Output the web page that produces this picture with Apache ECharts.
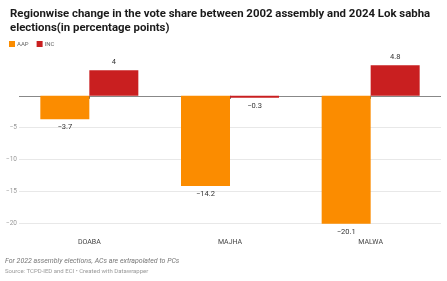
<!DOCTYPE html>
<html>
<head>
<meta charset="utf-8">
<script src="https://cdn.jsdelivr.net/npm/echarts@6/dist/echarts.min.js"></script>
<style>
  html, body { margin: 0; padding: 0; background: #fff; }
  #chart { width: 447px; height: 281px; }
</style>
</head>
<body>
<div id="chart"></div>
<script>
const regions = ["DOABA", "MAJHA", "MALWA"];
const aapValues = [-3.7, -14.2, -20.1];
const incValues = [4, -0.3, 4.8];
const yTicks = [-20, -15, -10, -5, 0, 5];

const fmt = (v) => String(v).replace("-", "\u2212");

const chart = echarts.init(document.getElementById("chart"));

const labelStyle = {
  show: true,
  fontSize: 7.5,
  color: "#333",
  fontFamily: "Roboto",
  formatter: (p) => fmt(p.value),
};

const barLabel = (vals) =>
  vals.map((v) => ({
    value: v,
    label: Object.assign({}, labelStyle, { position: v < 0 ? "bottom" : "top", distance: 4 }),
  }));

const option = {
  animation: false,
  textStyle: { fontFamily: "Roboto" },
  title: {
    text: "Regionwise change in the vote share between 2002 assembly and 2024 Lok sabha\nelections(in percentage points)",
    left: 5,
    top: 2,
    textStyle: { fontSize: 11.4, fontWeight: "bold", color: "#1a1a1a", lineHeight: 14, fontFamily: "Roboto" },
  },
  legend: {
    left: 4,
    top: 36,
    itemWidth: 6,
    itemHeight: 6,
    itemGap: 8,
    icon: "rect",
    textStyle: { fontSize: 6, color: "#666", padding: [0, 0, 0, -3] },
    data: ["AAP", "INC"],
  },
  grid: { left: 19, right: 6, top: 64, bottom: 58 },
  xAxis: {
    type: "category",
    data: regions,
    position: "bottom",
    offset: 9,
    axisLine: { show: false },
    axisTick: { show: true, alignWithLabel: true, length: 3, lineStyle: { color: "#666" } },
    axisLabel: { fontSize: 7, color: "#444", margin: 7 },
  },
  yAxis: {
    type: "value",
    min: yTicks[0],
    max: yTicks[yTicks.length - 1],
    interval: 5,
    axisLine: { show: false },
    axisTick: { show: false },
    axisLabel: {
      fontSize: 6.5,
      color: "#999",
      margin: 2,
      formatter: (v) => (v < 0 ? fmt(v) : ""),
    },
    splitLine: {
      lineStyle: {
        color: ["#e8e8e8", "#e8e8e8", "#e8e8e8", "#e8e8e8", "#888", "rgba(0,0,0,0)"],
        width: 1,
      },
    },
  },
  series: [
    {
      name: "AAP",
      type: "bar",
      barWidth: 49,
      barGap: "0%",
      clip: false,
      itemStyle: { color: "#fb8c00" },
      data: barLabel(aapValues),
    },
    {
      name: "INC",
      type: "bar",
      barWidth: 49,
      barGap: "0%",
      clip: false,
      itemStyle: { color: "#c91f20" },
      data: barLabel(incValues),
    },
  ],
  graphic: [
    {
      type: "text",
      left: 5,
      top: 258,
      style: {
        text: "For 2022 assembly elections, ACs are extrapolated to PCs",
        fontSize: 7,
        fontStyle: "italic",
        fill: "#777",
        fontFamily: "Roboto",
      },
    },
    {
      type: "text",
      left: 5,
      top: 268,
      style: {
        text: "Source: TCPD-IED and ECI \u2022 Created with Datawrapper",
        fontSize: 6,
        fill: "#999",
        fontFamily: "Roboto",
      },
    },
  ],
};

chart.setOption(option);
</script>
</body>
</html>
